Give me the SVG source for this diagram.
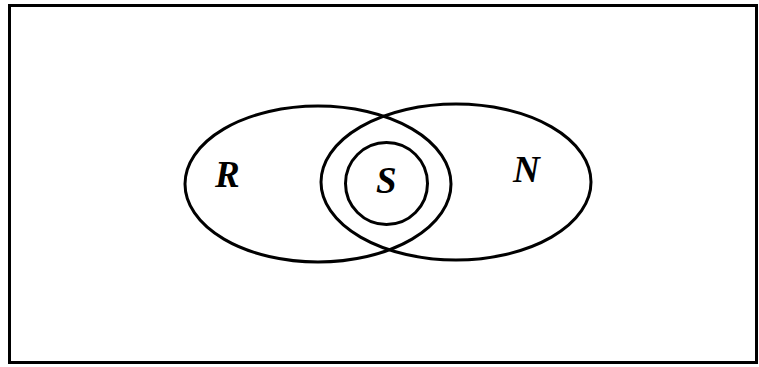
<svg xmlns="http://www.w3.org/2000/svg" width="759" height="367" viewBox="0 0 759 367">
<style>
.sh{fill:none;stroke:#000;stroke-width:3}
.lb{font-family:"Liberation Serif","DejaVu Serif",serif;font-style:italic;font-weight:bold;font-size:37px;fill:#000}
</style>
<rect width="759" height="367" fill="#fff"/>
<rect id="frame" class="sh" x="9.5" y="5.5" width="747" height="357"/>
<g id="R"><ellipse class="sh" cx="318" cy="184" rx="133" ry="78"/><text class="lb" x="215" y="187">R</text></g>
<g id="N"><ellipse class="sh" cx="456" cy="182" rx="135" ry="78"/><text class="lb" x="513" y="182">N</text></g>
<g id="S"><circle class="sh" cx="386.5" cy="183.5" r="41"/><text class="lb" x="376" y="193">S</text></g>
<g id="connectors"/>
</svg>
